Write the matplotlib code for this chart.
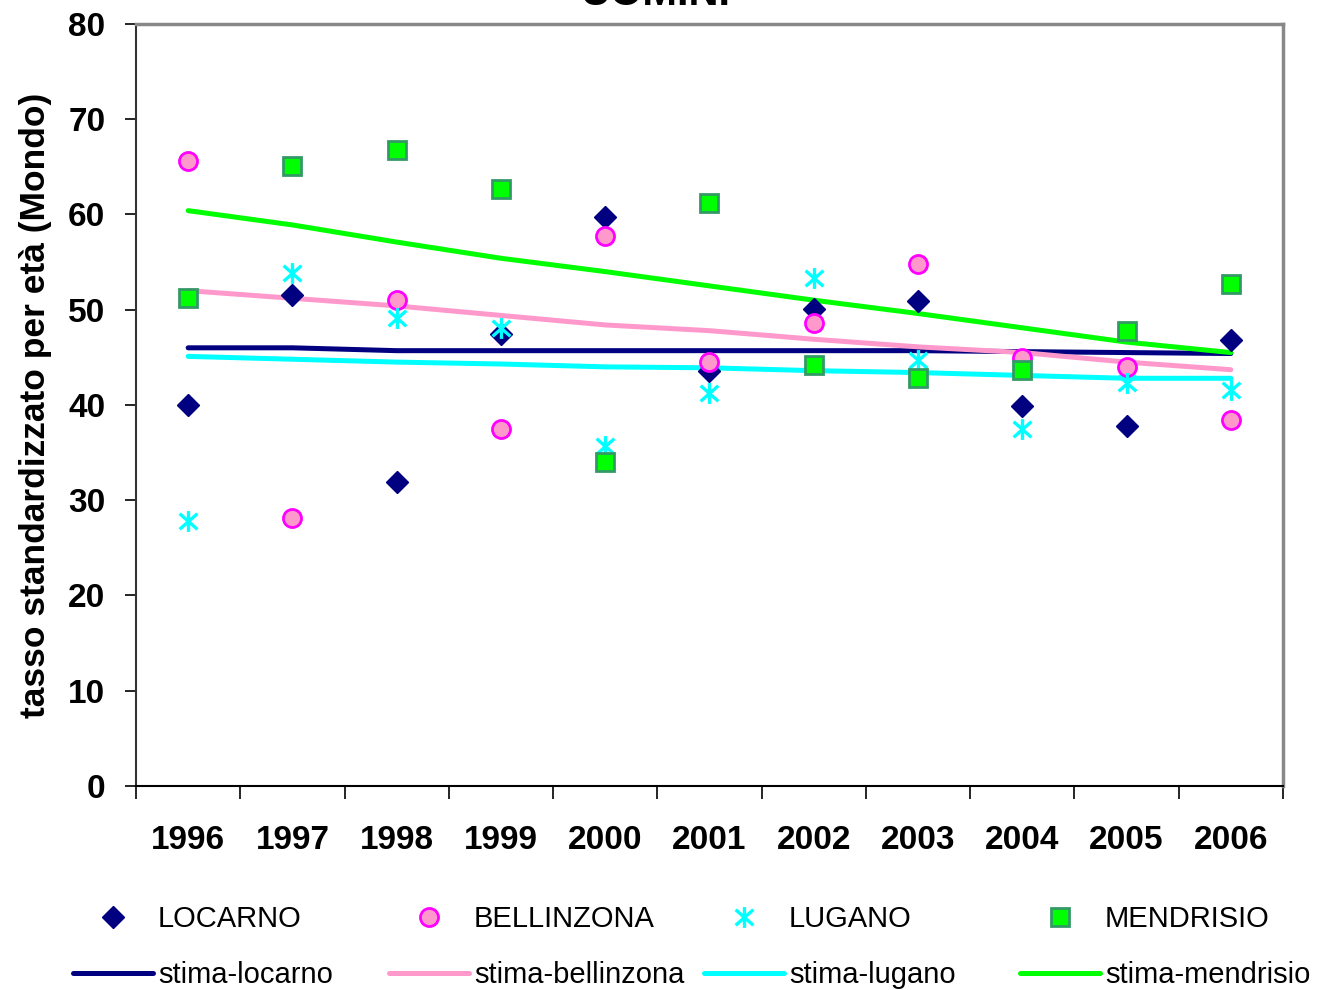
import matplotlib
matplotlib.use("Agg")
import matplotlib.pyplot as plt
from matplotlib.path import Path
import numpy as np

plt.rcParams['font.family'] = ['Liberation Sans', 'DejaVu Sans']

years = ["1996", "1997", "1998", "1999", "2000", "2001",
         "2002", "2003", "2004", "2005", "2006"]

# observed age-standardised rates
locarno = [40.0, 51.5, 31.9, 47.4, 59.7, 43.6, 50.1, 50.9, 39.9, 37.8, 46.8]
bellinzona = [65.6, 28.1, 51.0, 37.5, 57.7, 44.5, 48.6, 54.8, 44.9, 44.0, 38.4]
lugano = [27.8, 53.9, 49.1, 48.1, 35.7, 41.3, 53.3, 44.7, 37.5, 42.3, 41.6]
mendrisio = [51.2, 65.1, 66.8, 62.7, 34.0, 61.2, 44.2, 42.8, 43.7, 47.8, 52.7]

# fitted trends
stima_locarno = [46.0, 46.0, 45.7, 45.7, 45.7, 45.7, 45.7, 45.7, 45.6, 45.5, 45.4]
stima_bellinzona = [52.0, 51.2, 50.4, 49.4, 48.4, 47.8, 46.9, 46.1, 45.5, 44.5, 43.7]
stima_lugano = [45.1, 44.8, 44.5, 44.3, 44.0, 43.9, 43.6, 43.4, 43.1, 42.8, 42.8]
stima_mendrisio = [60.4, 58.9, 57.1, 55.4, 54.0, 52.5, 51.0, 49.6, 48.1, 46.6, 45.5]

x = np.arange(len(years))

# X with a vertical bar through it
star_x = Path([(0, -1), (0, 1), (-0.85, -0.75), (0.85, 0.75), (-0.85, 0.75), (0.85, -0.75)],
              [Path.MOVETO, Path.LINETO, Path.MOVETO, Path.LINETO, Path.MOVETO, Path.LINETO])

fig = plt.figure(figsize=(13.18, 9.9), dpi=100)
ax = fig.add_axes([0.1032, 0.2061, 0.8702, 0.7697])

lw = 3.6
l_loc, = ax.plot(x, stima_locarno, color="#000080", lw=lw, solid_capstyle="round", label="stima-locarno")
l_bel, = ax.plot(x, stima_bellinzona, color="#FF99CC", lw=lw, solid_capstyle="round", label="stima-bellinzona")
l_lug, = ax.plot(x, stima_lugano, color="#00FFFF", lw=lw, solid_capstyle="round", label="stima-lugano")
l_men, = ax.plot(x, stima_mendrisio, color="#00FF00", lw=lw, solid_capstyle="round", label="stima-mendrisio")

m_loc, = ax.plot(x, locarno, ls="none", marker="D", ms=11.5, color="#000080", label="LOCARNO")
m_bel, = ax.plot(x, bellinzona, ls="none", marker="o", ms=13, mfc="#FF99CC", mec="#FF00FF",
                 mew=2, label="BELLINZONA")
m_lug, = ax.plot(x, lugano, ls="none", marker=star_x, ms=15, color="#00FFFF", mew=2.4,
                 label="LUGANO")
m_men, = ax.plot(x, mendrisio, ls="none", marker="s", ms=13, mfc="#00FF00", mec="#339966",
                 mew=2, label="MENDRISIO")

ax.set_xlim(-0.5, len(years) - 0.5)
ax.set_ylim(0, 80)
ax.set_yticks(range(0, 81, 10))
ax.set_xticks(np.arange(-0.5, len(years), 1.0))
ax.set_xticklabels([])
ax.set_xticks(x, minor=True)
ax.set_xticklabels(years, minor=True, fontsize=24, fontweight="bold")
ax.tick_params(axis="x", which="major", direction="out", length=9, width=1.2)
ax.tick_params(axis="x", which="minor", length=0, pad=28)
ax.tick_params(axis="y", direction="out", length=8, width=1.2, pad=14,
               labelsize=24)
for t in ax.get_yticklabels():
    t.set_fontweight("bold")

ax.spines["left"].set_color("#333333")
ax.spines["bottom"].set_color("#000000")
for s in ("top", "right"):
    ax.spines[s].set_color("#888888")
    ax.spines[s].set_linewidth(2.5)
ax.spines["left"].set_linewidth(1.5)
ax.spines["bottom"].set_linewidth(1.5)

ax.set_ylabel("tasso standardizzato per età (Mondo)", fontsize=25.5, fontweight="bold", labelpad=12)

fig.text(0.497, 0.995, "UOMINI", ha="center", va="baseline", fontsize=30, fontweight="bold")

# legend: one column per district, markers on top, trend below
leg_size = 21
fs_px = leg_size * 100 / 72
pairs = [(m_loc, l_loc), (m_bel, l_bel), (m_lug, l_lug), (m_men, l_men)]
x_left = [73, 389, 704, 1020]
for (m, l), xl in zip(pairs, x_left):
    fig.legend(handles=[m, l], loc="upper left", bbox_to_anchor=(xl / 1318, 1 - 905 / 990),
               frameon=False, prop={"size": leg_size}, handlelength=80 / fs_px,
               handletextpad=5 / fs_px, borderpad=0, borderaxespad=0,
               labelspacing=(62 - fs_px * 1.15) / fs_px)

fig.savefig("out.png", dpi=100)
